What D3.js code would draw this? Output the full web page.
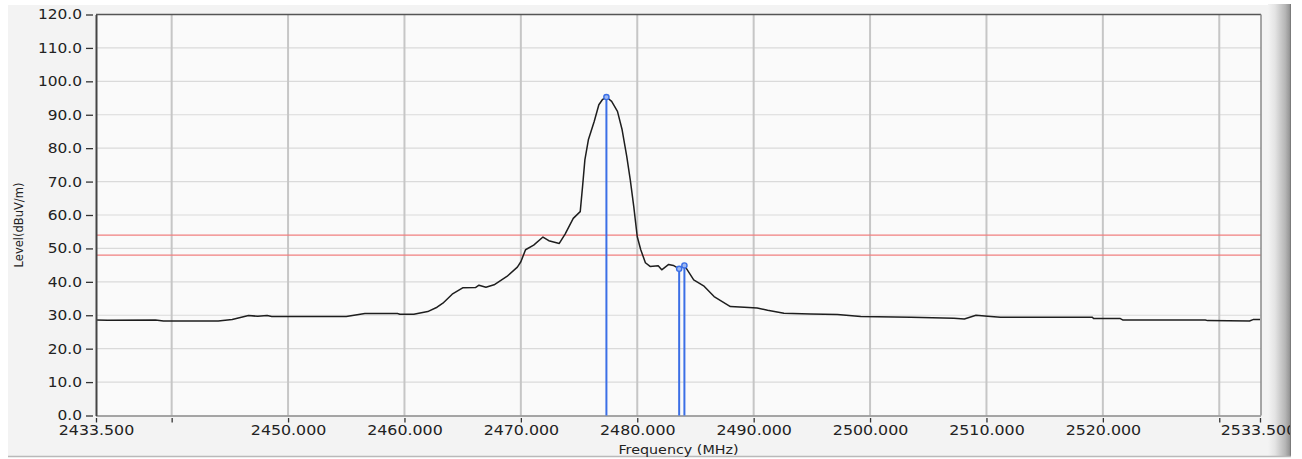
<!DOCTYPE html>
<html>
<head>
<meta charset="utf-8">
<script src="https://cdn.jsdelivr.net/npm/d3@7"></script>
<style>
  html, body { margin: 0; padding: 0; background: #ffffff; }
  svg { display: block; }
  text { font-family: "DejaVu Sans", Verdana, sans-serif; }
</style>
</head>
<body>
<svg id="chart" width="1302" height="459"></svg>
<script>
// Spectrum trace: frequency (MHz) and measured level (dBuV/m)
const traceFreq = [
  2433.5, 2434.5, 2438.6, 2439.3, 2444.0, 2445.2, 2446.6, 2447.4, 2448.2, 2448.6,
  2455.0, 2456.6, 2459.4, 2459.6, 2460.8, 2462.0, 2462.8, 2463.3, 2464.1, 2465.0,
  2466.1, 2466.4, 2467.0, 2467.7, 2468.8, 2469.7, 2470.0, 2470.4, 2471.1, 2471.9,
  2472.4, 2473.3, 2473.8, 2474.5, 2475.1, 2475.3, 2475.5, 2475.8, 2476.3, 2476.7,
  2477.0, 2477.35, 2477.8, 2478.3, 2478.7, 2479.1, 2479.4, 2479.7, 2480.0, 2480.3,
  2480.7, 2481.1, 2481.8, 2482.1, 2482.7, 2483.1, 2483.6, 2484.05, 2484.85, 2485.7,
  2486.6, 2488.0, 2489.2, 2490.3, 2491.2, 2492.6, 2494.9, 2497.2, 2499.2, 2503.5,
  2507.2, 2508.1, 2509.1, 2510.1, 2511.2, 2519.1, 2519.2, 2521.5, 2521.7, 2528.8,
  2529.0, 2532.6, 2532.9, 2533.5
];
const traceLevel = [
  28.6, 28.5, 28.6, 28.3, 28.3, 28.7, 29.9, 29.7, 29.9, 29.6,
  29.6, 30.5, 30.5, 30.3, 30.3, 31.1, 32.4, 33.6, 36.3, 38.2,
  38.3, 39.0, 38.4, 39.1, 41.6, 44.4, 46.0, 49.6, 51.0, 53.4,
  52.3, 51.5, 54.3, 59.0, 61.0, 68.5, 76.5, 82.5, 88.0, 93.0,
  94.5, 95.3, 94.0, 91.0, 85.5, 77.5, 70.5, 62.5, 53.5, 49.6,
  45.7, 44.6, 44.8, 43.6, 45.2, 44.9, 43.9, 44.9, 40.6, 38.8,
  35.6, 32.6, 32.4, 32.2, 31.5, 30.6, 30.4, 30.2, 29.6, 29.4,
  29.1, 28.9, 30.0, 29.7, 29.4, 29.4, 29.0, 29.0, 28.6, 28.6,
  28.4, 28.3, 28.7, 28.7
];

// Peak markers
const markerFreq = [2477.35, 2483.6, 2484.05];
const markerLevel = [95.3, 43.9, 44.9];

// Limit lines (dBuV/m)
const limitLevels = [54, 48];

// Axis ticks
const xTicks = [2433.5, 2440, 2450, 2460, 2470, 2480, 2490, 2500, 2510, 2520, 2530, 2533.5];
const xTickLabels = ["2433.500", "", "2450.000", "2460.000", "2470.000", "2480.000",
                     "2490.000", "2500.000", "2510.000", "2520.000", "", "2533.500"];
const xGrid = [2440, 2450, 2460, 2470, 2480, 2490, 2500, 2510, 2520, 2530];
const yTicks = [0, 10, 20, 30, 40, 50, 60, 70, 80, 90, 100, 110, 120];
const yGrid = [10, 20, 30, 40, 50, 60, 70, 80, 90, 100, 110];

const xTitle = "Frequency (MHz)";
const yTitle = "Level(dBuV/m)";

const svg = d3.select("#chart");
const plot = { left: 96, right: 1261, top: 14.5, bottom: 415.5 };

const x = d3.scaleLinear().domain([2433.5, 2533.5]).range([plot.left, plot.right - 1]);
const y = d3.scaleLinear().domain([0, 120]).range([plot.bottom, plot.top]);

const defs = svg.append("defs");
const grad = defs.append("linearGradient").attr("id", "edgeShade")
  .attr("x1", "0").attr("x2", "1").attr("y1", "0").attr("y2", "0");
grad.append("stop").attr("offset", "0").attr("stop-color", "#f3f3f3");
grad.append("stop").attr("offset", "0.3").attr("stop-color", "#e4e4e4");
grad.append("stop").attr("offset", "0.75").attr("stop-color", "#b6b6b6");
grad.append("stop").attr("offset", "0.93").attr("stop-color", "#989898");
grad.append("stop").attr("offset", "1").attr("stop-color", "#6e6e6e");
defs.append("clipPath").attr("id", "windowClip")
  .append("rect").attr("x", 0).attr("y", 0).attr("width", 1290).attr("height", 459);

// Window panel
svg.append("rect").attr("x", 8).attr("y", 5).attr("width", 1283).attr("height", 452)
  .attr("fill", "#f3f3f3");
svg.append("rect").attr("x", 1268).attr("y", 4).attr("width", 23).attr("height", 453)
  .attr("fill", "url(#edgeShade)");
svg.append("line").attr("x1", 8).attr("x2", 1291).attr("y1", 456.5).attr("y2", 456.5)
  .attr("stroke", "#b9b9b9").attr("stroke-width", 1.5);

// Plot background
svg.append("rect").attr("x", plot.left).attr("y", plot.top)
  .attr("width", plot.right - plot.left).attr("height", plot.bottom - plot.top)
  .attr("fill", "#fafafa");

// Grid
svg.append("g").selectAll("line").data(yGrid).join("line")
  .attr("x1", plot.left).attr("x2", plot.right)
  .attr("y1", d => y(d)).attr("y2", d => y(d))
  .attr("stroke", "#dadada").attr("stroke-width", 1.2);
svg.append("g").selectAll("line").data(xGrid).join("line")
  .attr("x1", d => x(d)).attr("x2", d => x(d))
  .attr("y1", plot.top).attr("y2", plot.bottom)
  .attr("stroke", "#c6c6c6").attr("stroke-width", 2);

// Limit lines
svg.append("g").selectAll("line").data(limitLevels).join("line")
  .attr("x1", plot.left).attr("x2", plot.right)
  .attr("y1", d => y(d)).attr("y2", d => y(d))
  .attr("stroke", "#f07f7f").attr("stroke-width", 1.3);

// Frame
svg.append("line").attr("x1", plot.left).attr("x2", plot.right)
  .attr("y1", plot.top).attr("y2", plot.top).attr("stroke", "#555").attr("stroke-width", 1.5);
svg.append("line").attr("x1", plot.right).attr("x2", plot.right)
  .attr("y1", plot.top).attr("y2", plot.bottom).attr("stroke", "#8a8a8a").attr("stroke-width", 1.5);
svg.append("line").attr("x1", plot.left).attr("x2", plot.right)
  .attr("y1", plot.bottom + 0.5).attr("y2", plot.bottom + 0.5).attr("stroke", "#8a8a8a").attr("stroke-width", 1.5);

// Marker stems
svg.append("g").selectAll("line").data(markerFreq).join("line")
  .attr("x1", d => x(d)).attr("x2", d => x(d))
  .attr("y1", (d, i) => y(markerLevel[i])).attr("y2", plot.bottom)
  .attr("stroke", "#3b6fe6").attr("stroke-width", 2);

// Trace
const pts = traceFreq.map((f, i) => [f, traceLevel[i]]);
svg.append("path").datum(pts)
  .attr("fill", "none").attr("stroke", "#1e1e1e").attr("stroke-width", 1.5)
  .attr("stroke-linejoin", "round")
  .attr("d", d3.line().x(d => x(d[0])).y(d => y(d[1])));

// Marker heads
svg.append("g").selectAll("circle").data(markerFreq).join("circle")
  .attr("cx", d => x(d)).attr("cy", (d, i) => y(markerLevel[i])).attr("r", 2.6)
  .attr("fill", "#9fb8f0").attr("stroke", "#3b6fe6").attr("stroke-width", 1.4);

// Widen text slightly (Tahoma-like metrics)
function widen(sel, k) {
  sel.each(function () {
    const len = this.getComputedTextLength();
    if (len > 0) d3.select(this).attr("textLength", len * k).attr("lengthAdjust", "spacingAndGlyphs");
  });
}

// Y axis
const yAxis = svg.append("g").attr("transform", `translate(${plot.left},0)`)
  .call(d3.axisLeft(y).tickValues(yTicks).tickFormat(d3.format(".1f"))
    .tickSize(10).tickPadding(4).tickSizeOuter(0));
yAxis.select(".domain").attr("stroke", "#444").attr("stroke-width", 2);
yAxis.selectAll(".tick line").attr("stroke", "#333").attr("stroke-width", 1.3)
  .attr("x2", -10).attr("x1", -3);
yAxis.selectAll("text").attr("font-size", 14).attr("fill", "#222")
  .attr("font-family", "\"DejaVu Sans\", Verdana, sans-serif");
widen(yAxis.selectAll("text"), 1.1);

// X axis (the last label is pushed left so it starts at the 2530 gridline)
const xAxis = svg.append("g").attr("transform", `translate(0,${plot.bottom})`)
  .attr("clip-path", "url(#windowClip)")
  .call(d3.axisBottom(x).tickValues(xTicks).tickFormat((d, i) => xTickLabels[i])
    .tickSize(7).tickPadding(3).tickSizeOuter(0));
xAxis.select(".domain").remove();
xAxis.selectAll(".tick line").attr("stroke", "#333").attr("stroke-width", 1.3).attr("y1", 2.5);
xAxis.selectAll("text").attr("font-size", 14).attr("fill", "#222")
  .attr("font-family", "\"DejaVu Sans\", Verdana, sans-serif");
widen(xAxis.selectAll("text"), 1.13);
xAxis.selectAll(".tick").filter(d => d === 2533.5).select("text")
  .attr("text-anchor", "start").attr("x", x(2530) - x(2533.5) + 1);

// Axis titles
const xt = svg.append("text").attr("x", (plot.left + plot.right) / 2).attr("y", 454)
  .attr("text-anchor", "middle").attr("font-size", 13).attr("fill", "#222").text(xTitle);
widen(xt, 1.1);
svg.append("text").attr("transform", "translate(23,225) rotate(-90)")
  .attr("text-anchor", "middle").attr("font-size", 11.5).attr("fill", "#222").text(yTitle);
</script>
</body>
</html>
